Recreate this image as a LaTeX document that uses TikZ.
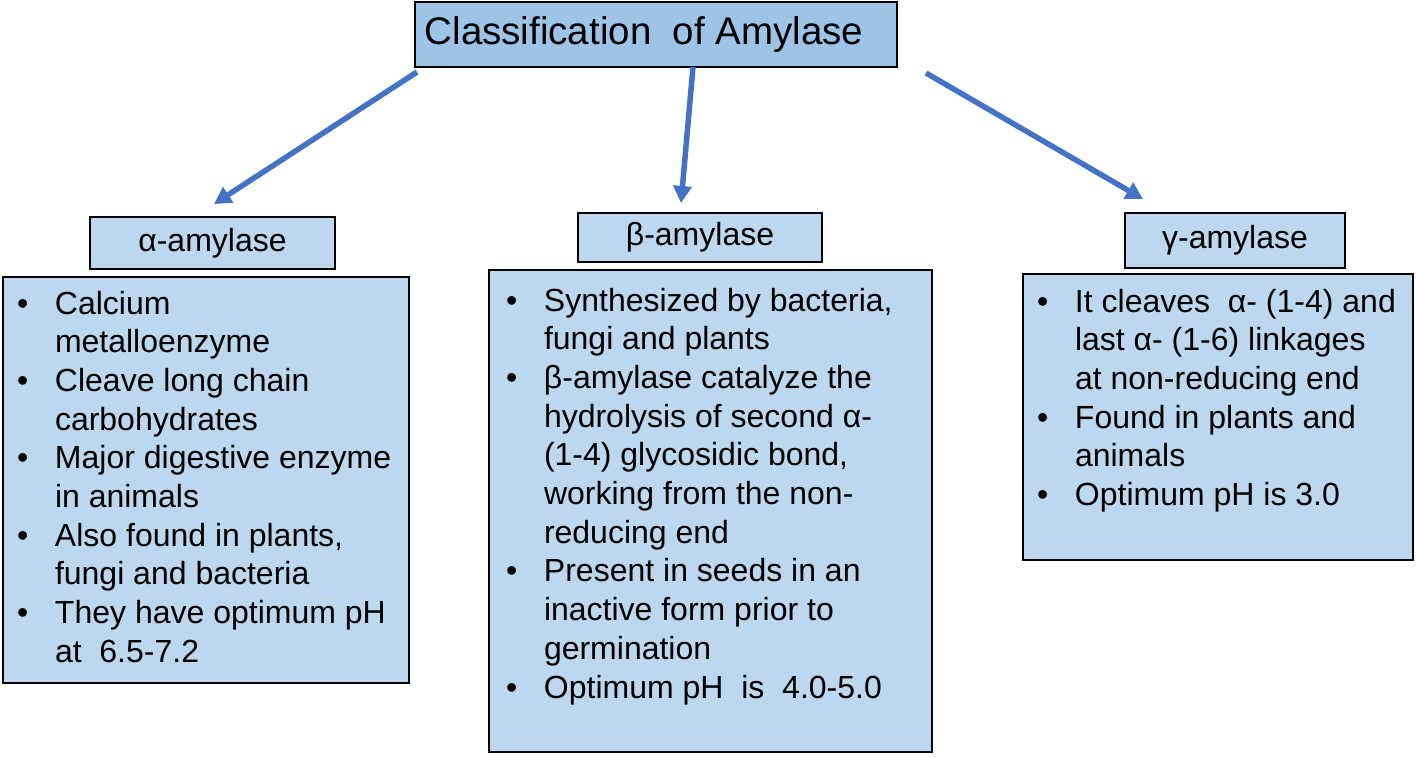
\documentclass[tikz,border=0pt]{standalone}
\usepackage{fontspec}
\setmainfont{Liberation Sans}
\usetikzlibrary{arrows.meta}
\definecolor{titlefill}{HTML}{9DC3E6}
\definecolor{boxfill}{HTML}{BDD7EE}
\definecolor{arrowblue}{HTML}{4472C4}
\newlength\bulw \setlength\bulw{38pt}
\newcommand\bitem[1]{\par\noindent\hangindent=\bulw\hangafter=1\makebox[\bulw][l]{\strut\textbullet}#1}
\newcommand\blist[2]{\parbox[t]{#1}{\fontsize{32}{38.7}\selectfont #2\par}}
\begin{document}
\begin{tikzpicture}[x=1pt,y=-1pt,
  box/.style={draw=black, line width=1.8pt, fill=boxfill, inner sep=0pt, outer sep=0pt, anchor=north west, font=\fontsize{32}{38.7}\selectfont},
  titlebox/.style={box, fill=titlefill, line width=1.5pt, font=\fontsize{38.5}{45}\selectfont},
  arr/.style={draw=arrowblue, line width=5.5pt, -{Triangle[length=17pt,width=18pt]}},
  listtext/.style={anchor=north west, inner sep=0pt, outer sep=0pt}]
\useasboundingbox (0,0) rectangle (1416,756);

\node[titlebox, minimum width=482, minimum height=65] (title) at (415,2) {Classification\ \ of Amylase\hspace*{24pt}};

\node[box, minimum width=245, minimum height=52] (ahead) at (90,217) {α-amylase};
\node[box, minimum width=406, minimum height=406] (abody) at (3,277) {};
\node[box, minimum width=244, minimum height=49] (bhead) at (578,213) {β-amylase};
\node[box, minimum width=443, minimum height=482] (bbody) at (489,270) {};
\node[box, minimum width=220, minimum height=55] (ghead) at (1125,213) {γ-amylase};
\node[box, minimum width=390, minimum height=286] (gbody) at (1023,274) {};

\node[listtext] (alist) at ([shift={(14,10)}]abody.north west) {\blist{380pt}{%
\bitem{Calcium\newline metalloenzyme}
\bitem{Cleave long chain\newline carbohydrates}
\bitem{Major digestive enzyme\newline in animals}
\bitem{Also found in plants,\newline fungi and bacteria}
\bitem{They have optimum pH\newline at\ \ 6.5-7.2}}};

\node[listtext] (blist) at ([shift={(17,14)}]bbody.north west) {\blist{420pt}{%
\bitem{Synthesized by bacteria,\newline fungi and plants}
\bitem{β-amylase catalyze the\newline hydrolysis of second α-\newline (1-4) glycosidic bond,\newline working from the non-\newline reducing end}
\bitem{Present in seeds in an\newline inactive form prior to\newline germination}
\bitem{Optimum pH\ \ is\ \ 4.0-5.0}}};

\node[listtext] (glist) at ([shift={(14,11)}]gbody.north west) {\blist{370pt}{%
\bitem{It cleaves\ \ α- (1-4) and\newline last α- (1-6) linkages\newline at non-reducing end}
\bitem{Found in plants and\newline animals}
\bitem{Optimum pH is 3.0}}};

\draw[arr] ([shift={(2,5)}]title.south west) -- ([shift={(1.5,-13)}]ahead.north);
\draw[arr] ([shift={(37,0)}]title.south) -- ([shift={(-19,-10)}]bhead.north);
\draw[arr] ([shift={(29,6)}]title.south east) -- ([shift={(-92,-14)}]ghead.north);
\end{tikzpicture}
\end{document}
